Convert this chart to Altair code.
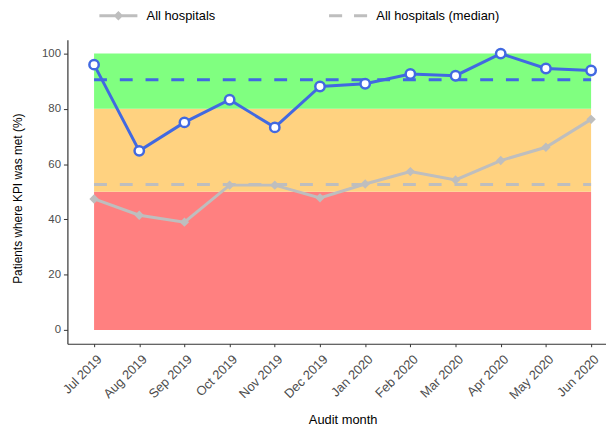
import altair as alt
import pandas as pd

months = ["Jul 2019", "Aug 2019", "Sep 2019", "Oct 2019", "Nov 2019", "Dec 2019",
          "Jan 2020", "Feb 2020", "Mar 2020", "Apr 2020", "May 2020", "Jun 2020"]
hospital = [96.0, 64.8, 75.1, 83.3, 73.3, 88.1, 89.1, 92.6, 92.0, 100.0, 94.6, 93.9]
all_hospitals = [47.4, 41.5, 39.0, 52.4, 52.4, 47.8, 52.8, 57.3, 54.3, 61.3, 66.1, 76.2]
hospital_median = 90.5
all_median = 52.6
band_lower = [0, 50, 80]
band_upper = [50, 80, 100]
band_colors = ["#FF8080", "#FFD280", "#80FF80"]
legend_labels = ["All hospitals", "All hospitals (median)"]
y_ticks = [0, 20, 40, 60, 80, 100]

BLUE = "#4169E1"
GREY = "#BEBEBE"
FONT = "Liberation Sans"

idx = list(range(len(months)))
df = pd.DataFrame({"i": idx, "month": months, "hosp": hospital, "all": all_hospitals})
bands = pd.DataFrame({"x0": [0] * 3, "x1": [len(months) - 1] * 3,
                      "lo": band_lower, "hi": band_upper, "c": band_colors})
medians = pd.DataFrame({"x0": [0, 0], "x1": [len(months) - 1] * 2,
                        "y": [all_median, hospital_median], "c": [GREY, BLUE]})
leg = pd.DataFrame({"s": legend_labels, "i": [0, 0], "v": [50, 50]})

label_expr = "[" + ",".join("'%s'" % m for m in months) + "][datum.value]"
xscale = alt.Scale(domain=[-0.59, 11.33], nice=False, zero=False)
yscale = alt.Scale(domain=[-5, 105], nice=False, zero=False)
xaxis = alt.Axis(values=idx, labelExpr=label_expr, labelAngle=315, labelAlign="right",
                 labelBaseline="top", labelOverlap=False, labelFlush=False, labelBound=False,
                 labelPadding=6, labelOffset=1, labelFontSize=13, tickSize=3,
                 title="Audit month", titleX=278, titleY=81, titleBaseline="alphabetic",
                 titleAlign="center", titleFontSize=13)
yaxis = alt.Axis(values=y_ticks, title="Patients where KPI was met (%)",
                 labelFontSize=11.5, tickSize=4, labelPadding=3,
                 titleX=-46.5, titleY=160, titleAngle=270, titleBaseline="alphabetic",
                 titleAlign="center", titleFontSize=12)

band_layer = alt.Chart(bands).mark_rect(opacity=1).encode(
    x=alt.X("x0:Q", scale=xscale, axis=xaxis), x2="x1:Q",
    y=alt.Y("lo:Q", scale=yscale, axis=yaxis), y2="hi:Q",
    color=alt.Color("c:N", scale=None),
)

median_layer = alt.Chart(medians).mark_rule(strokeWidth=3, strokeDash=[13, 13]).encode(
    x=alt.X("x0:Q", scale=xscale), x2="x1:Q",
    y=alt.Y("y:Q", scale=yscale),
    color=alt.Color("c:N", scale=None),
)

grey_line = alt.Chart(df).mark_line(color=GREY, strokeWidth=3).encode(
    x=alt.X("i:Q", scale=xscale), y=alt.Y("all:Q", scale=yscale))
grey_pts = alt.Chart(df).mark_point(shape="diamond", filled=True, color=GREY, opacity=1, size=90).encode(
    x=alt.X("i:Q", scale=xscale), y=alt.Y("all:Q", scale=yscale))

blue_line = alt.Chart(df).mark_line(color=BLUE, strokeWidth=3).encode(
    x=alt.X("i:Q", scale=xscale), y=alt.Y("hosp:Q", scale=yscale))
blue_pts = alt.Chart(df).mark_point(shape="circle", filled=False, fill="white", stroke=BLUE,
                                    strokeWidth=2.5, opacity=1, size=90).encode(
    x=alt.X("i:Q", scale=xscale), y=alt.Y("hosp:Q", scale=yscale))

# legend glyphs as filled outlines (line + diamond, two dashes)
path_line = "M-3.2,-0.25H3.2V0.25H-3.2ZM0,-0.8L0.8,0L0,0.8L-0.8,0Z"
path_dash = "M-3.2,-0.25H-1.0V0.25H-3.2ZM1.0,-0.25H3.2V0.25H1.0Z"

legend_layer = alt.Chart(leg).mark_point(opacity=0, filled=True, color=GREY).encode(
    x=alt.X("i:Q", scale=xscale), y=alt.Y("v:Q", scale=yscale),
    shape=alt.Shape("s:N", scale=alt.Scale(domain=legend_labels, range=[path_line, path_dash]),
                    legend=alt.Legend(title=None, orient="none", legendX=45, legendY=-31,
                                      direction="horizontal", columns=2, columnPadding=114,
                                      symbolSize=144, symbolFillColor=GREY,
                                      symbolStrokeColor="transparent", symbolStrokeWidth=0,
                                      symbolOpacity=1, labelOffset=22,
                                      labelFontSize=13, labelColor="black", labelFont=FONT,
                                      padding=0)),
)

chart = alt.layer(band_layer, median_layer, grey_line, grey_pts, blue_line, blue_pts, legend_layer).properties(
    width=544, height=307,
    autosize=alt.AutoSizeParams(type="none"),
    padding={"left": 60, "top": 30, "right": 0, "bottom": 82},
).configure_view(stroke=None).configure_axis(
    grid=False, domainColor="#333333", domainWidth=1.2, tickColor="#333333",
    labelColor="#4D4D4D", labelFont=FONT,
    titleFont=FONT, titleFontWeight="normal", titleColor="black",
)

chart.save("out.html", embed_options={"renderer": "svg", "actions": False})
